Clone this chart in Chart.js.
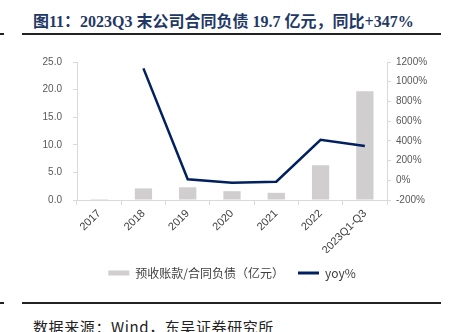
<!DOCTYPE html>
<html>
<head>
<meta charset="utf-8">
<script src="https://cdn.jsdelivr.net/npm/chart.js@4"></script>
<style>
  html, body { margin: 0; padding: 0; background: #fff; }
  body { width: 449px; height: 332px; position: relative; overflow: hidden; }
  .title {
    position: absolute; left: 33px; top: 8px;
    font: bold 16px "Liberation Serif", "Noto Sans CJK SC", serif;
    color: #1f3864; white-space: nowrap;
  }
  .rule { position: absolute; height: 2px; background: #222; }
  .source {
    position: absolute; left: 33px; top: 316px; letter-spacing: 0.6px;
    font: 15px "Noto Sans CJK SC", sans-serif; color: #222; white-space: nowrap;
  }
  #wrap { position: absolute; left: 0; top: 40px; width: 449px; height: 250px; }
</style>
</head>
<body>
<div class="title">图11：2023Q3 末公司合同负债 19.7 亿元，同比+347%</div>
<div class="rule" style="left:0;top:33px;width:4px;"></div>
<div class="rule" style="left:22px;top:33px;width:419px;"></div>
<div class="rule" style="left:0;top:302px;width:4px;"></div>
<div class="rule" style="left:22px;top:302px;width:419px;"></div>
<div class="source">数据来源：Wind，东吴证券研究所</div>
<div id="wrap"><canvas id="chart"></canvas></div>
<script>
const categories = ["2017", "2018", "2019", "2020", "2021", "2022", "2023Q1-Q3"];
const contractLiab = [0.17, 2.1, 2.3, 1.6, 1.3, 6.3, 19.7];   // 亿元
const yoyPct = [null, 1135, 10, -25, -15, 410, 347];           // %

const axisGray = "#d9d9d9";
const tickFont = { family: "Liberation Sans, Arial", size: 10 };

new Chart(document.getElementById("chart"), {
  data: {
    labels: categories,
    datasets: [
      {
        type: "bar",
        label: "预收账款/合同负债（亿元）",
        data: contractLiab,
        backgroundColor: "#d0cece",
        yAxisID: "y",
        categoryPercentage: 1,
        barPercentage: 0.39,
        order: 2
      },
      {
        type: "line",
        label: "yoy%",
        data: yoyPct,
        borderColor: "#002060",
        backgroundColor: "#002060",
        borderWidth: 2.5,
        pointRadius: 0,
        tension: 0,
        yAxisID: "y1",
        order: 1
      }
    ]
  },
  options: {
    responsive: true,
    maintainAspectRatio: false,
    animation: false,
    layout: { padding: { top: 22, left: 0, right: 0, bottom: 1 } },
    plugins: {
      tooltip: { enabled: false },
      legend: {
        position: "bottom",
        fullSize: false,
        labels: {
          usePointStyle: true,
          pointStyleWidth: 21,
          boxHeight: 5,
          padding: 14,
          color: "#404040",
          font: { family: "Noto Sans CJK SC", size: 12 },
          sort: (a, b) => a.datasetIndex - b.datasetIndex,
          generateLabels(chart) {
            const items = Chart.defaults.plugins.legend.labels.generateLabels(chart);
            items.forEach(it => {
              if (it.datasetIndex === 0) {
                it.pointStyle = "rect";
                it.lineWidth = 0;
              } else {
                it.pointStyle = "line";
                it.lineWidth = 3;
                it.strokeStyle = "#002060";
              }
            });
            return items;
          }
        }
      }
    },
    scales: {
      x: {
        grid: { display: true, drawOnChartArea: false, color: axisGray, tickLength: 5, offset: true },
        border: { color: axisGray },
        ticks: { color: "#404040", font: { family: "Liberation Sans, Arial", size: 11 },
                 minRotation: 45, maxRotation: 45, padding: 2 },
        afterFit(scale) { scale.height = 53; }
      },
      y: {
        position: "left",
        min: 0, max: 25,
        grid: { display: true, drawOnChartArea: false, color: axisGray, tickLength: 4 },
        border: { color: axisGray },
        ticks: { stepSize: 5, color: "#595959", font: tickFont, padding: 11,
                 callback: v => v.toFixed(1) },
        afterFit(scale) { scale.width = 77; }
      },
      y1: {
        position: "right",
        min: -200, max: 1200,
        grid: { display: true, drawOnChartArea: false, color: axisGray, tickLength: 4 },
        border: { color: axisGray },
        ticks: { stepSize: 200, color: "#595959", font: tickFont, padding: 5,
                 callback: v => v + "%" },
        afterFit(scale) { scale.width = 62; }
      }
    }
  }
});
</script>
</body>
</html>
